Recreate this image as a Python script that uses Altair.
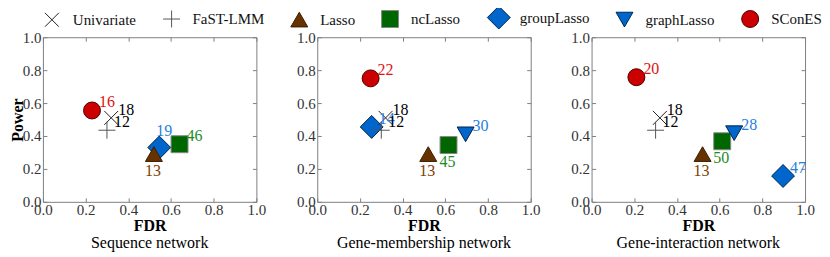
import altair as alt
import pandas as pd

FONT = "Liberation Serif"

METHODS = ["Univariate", "FaST-LMM", "Lasso", "ncLasso", "groupLasso", "graphLasso", "SConES"]

# Sequence network
seq_method = ["ncLasso", "groupLasso", "Lasso", "Univariate", "FaST-LMM", "SConES"]
seq_fdr = [0.64, 0.545, 0.52, 0.32, 0.30, 0.23]
seq_power = [0.35, 0.33, 0.29, 0.51, 0.435, 0.555]
seq_count = [46, 19, 13, 18, 12, 16]
seq_place = ["ne", "n", "s", "ne", "ne", "ne"]

# Gene-membership network
gm_method = ["ncLasso", "graphLasso", "groupLasso", "Lasso", "Univariate", "FaST-LMM", "SConES"]
gm_fdr = [0.615, 0.695, 0.255, 0.52, 0.32, 0.30, 0.25]
gm_power = [0.345, 0.41, 0.455, 0.29, 0.51, 0.435, 0.75]
gm_count = [45, 30, 14, 13, 18, 12, 22]
gm_place = ["s", "ne", "ne", "s", "ne", "ne", "ne"]

# Gene-interaction network
gi_method = ["ncLasso", "graphLasso", "groupLasso", "Lasso", "Univariate", "FaST-LMM", "SConES"]
gi_fdr = [0.612, 0.668, 0.897, 0.52, 0.32, 0.30, 0.21]
gi_power = [0.368, 0.417, 0.157, 0.29, 0.51, 0.435, 0.757]
gi_count = [50, 28, 47, 13, 18, 12, 20]
gi_place = ["s", "ne", "ne", "s", "ne", "ne", "ne"]

NETWORKS = ["Sequence network", "Gene-membership network", "Gene-interaction network"]
TICKS = [0.0, 0.2, 0.4, 0.6, 0.8, 1.0]

# styles (custom paths sized within the common symbol size)
SHAPES = ["M-0.82,-0.82L0.82,0.82M-0.82,0.82L0.82,-0.82", "M-1,0L1,0M0,-1L0,1",
          "triangle-up", "square", "M-1.35,0L0,-1.35L1.35,0L0,1.35Z", "triangle-down", "circle"]
FILLS = ["transparent", "transparent", "#663300", "#006600", "#0066cc", "#0066cc", "#cc0000"]
STROKES = ["#222222", "#555555", "#3a1d00", "#888888", "#00264d", "#00264d", "#4d0000"]
LABEL_COLORS = ["#000000", "#000000", "#7b3f00", "#1e8c1e", "#1f80e0", "#1f80e0", "#e01010"]
SYMBOL_SIZE = 289

W, H = 214, 165


def make_panel(methods, fdr, power, count, place, title, first):
    df = pd.DataFrame({"method": methods, "fdr": fdr, "power": power,
                       "count": count, "place": place})
    x = alt.X("fdr:Q", scale=alt.Scale(domain=[0, 1], nice=False, zero=False),
              axis=alt.Axis(values=TICKS, format=".1f", title="FDR",
                            grid=True, gridDash=[4, H - 8, 4], gridColor="#7f7f7f",
                            gridWidth=1, tickSize=0, domain=False,
                            labelFlush=False, labelOverlap=False, labelBound=False,
                            labelPadding=1, labelFontSize=15, labelColor="#333333",
                            labelFont=FONT, titleFont=FONT, titleFontSize=16,
                            titleFontWeight="bold", titlePadding=0, titleColor="#000000"))
    yaxis_kwargs = dict(values=TICKS, format=".1f",
                        grid=True, gridDash=[4, W - 8, 4], gridColor="#7f7f7f",
                        gridWidth=1, tickSize=0, domain=False,
                        labelFlush=False, labelOverlap=False, labelBound=False,
                        labelPadding=2, labelFontSize=15, labelColor="#333333",
                        labelFont=FONT)
    if first:
        yaxis = alt.Axis(title="Power", titleFont=FONT, titleFontSize=16,
                         titleFontWeight="bold", titlePadding=-3, titleColor="#000000",
                         **yaxis_kwargs)
    else:
        yaxis = alt.Axis(title=None, **yaxis_kwargs)
    y = alt.Y("power:Q", scale=alt.Scale(domain=[0, 1], nice=False, zero=False), axis=yaxis)

    legend = alt.Legend(title=None) if first else None
    base = alt.Chart(df)
    points = base.mark_point(filled=True, opacity=1, strokeWidth=1, size=SYMBOL_SIZE).encode(
        x=x, y=y,
        shape=alt.Shape("method:N", scale=alt.Scale(domain=METHODS, range=SHAPES), legend=legend),
        fill=alt.Fill("method:N", scale=alt.Scale(domain=METHODS, range=FILLS), legend=legend),
        stroke=alt.Stroke("method:N", scale=alt.Scale(domain=METHODS, range=STROKES), legend=legend),
    )

    def labels(which, align, baseline, dx, dy):
        return base.transform_filter(alt.datum.place == which).mark_text(
            align=align, baseline=baseline, dx=dx, dy=dy, font=FONT, fontSize=16
        ).encode(
            x=x, y=y, text="count:N",
            color=alt.Color("method:N", scale=alt.Scale(domain=METHODS, range=LABEL_COLORS),
                            legend=None),
        )

    layer = alt.layer(
        points,
        labels("ne", "left", "alphabetic", 7, -3),
        labels("s", "center", "top", -1, 9),
        labels("n", "center", "alphabetic", 5, -12),
    ).properties(
        width=W, height=H,
        title=alt.TitleParams(title, orient="bottom", font=FONT, fontSize=16,
                              fontWeight="normal", offset=1, color="#000000"),
    )
    return layer


p1 = make_panel(seq_method, seq_fdr, seq_power, seq_count, seq_place, NETWORKS[0], True)
p2 = make_panel(gm_method, gm_fdr, gm_power, gm_count, gm_place, NETWORKS[1], False)
p3 = make_panel(gi_method, gi_fdr, gi_power, gi_count, gi_place, NETWORKS[2], False)

chart = alt.hconcat(p1, p2, p3, spacing=29).resolve_scale(
    shape="shared", fill="shared", stroke="shared", color="shared"
).properties(
    padding=0
).configure(
    font=FONT
).configure_view(
    stroke="#7f7f7f", strokeWidth=1
).configure_legend(
    orient="top", offset=-2, direction="horizontal", gridAlign="each",
    labelFont=FONT, labelFontSize=15, labelColor="#111111",
    labelOffset=12, columnPadding=24, symbolStrokeWidth=1, padding=0,
    rowPadding=0, symbolSize=SYMBOL_SIZE, labelLimit=200
)

chart.save("out.html", embed_options={"renderer": "svg", "actions": False})
